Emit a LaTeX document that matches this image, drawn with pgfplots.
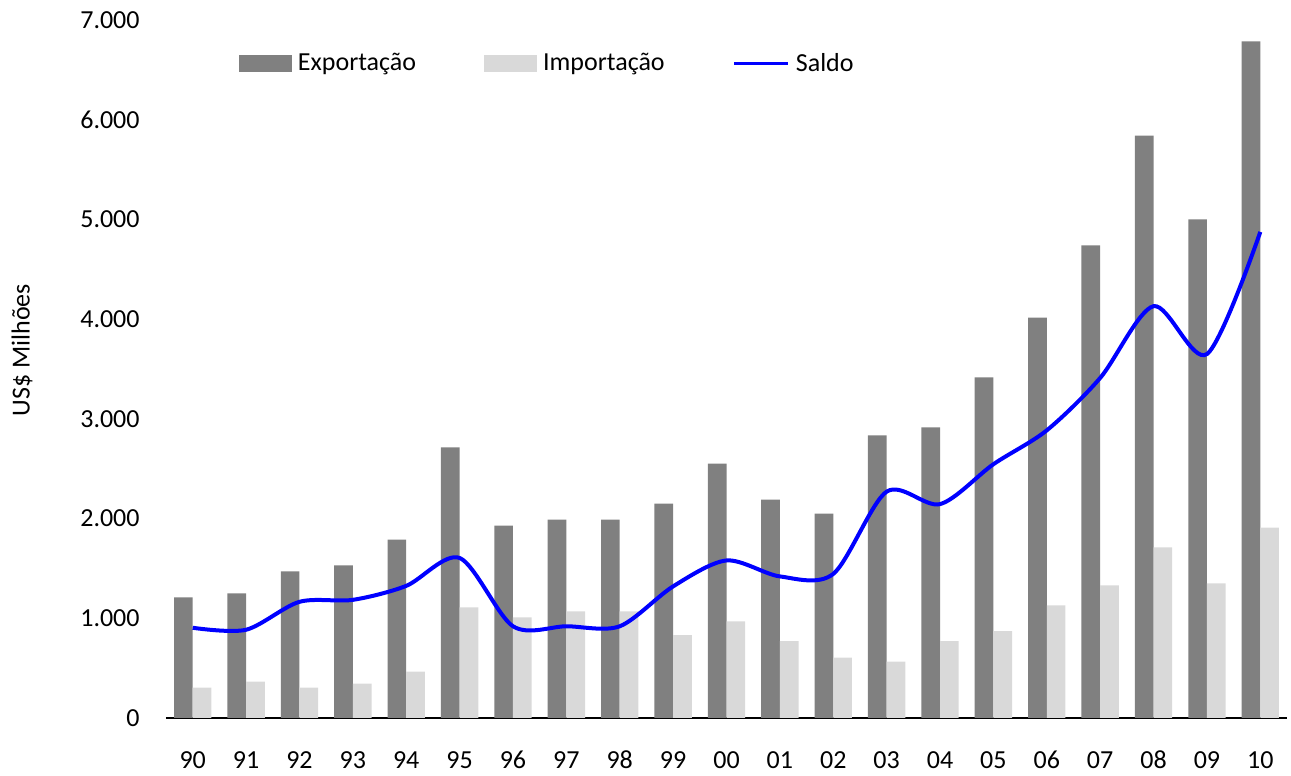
\documentclass[border=0pt]{standalone}
\usepackage{pgfplots}
\pgfplotsset{compat=1.18}
\usepackage{fontspec}
\setmainfont{Carlito}
\definecolor{expc}{RGB}{128,128,128}
\definecolor{impc}{RGB}{217,217,217}
\definecolor{salc}{RGB}{0,0,255}
\begin{document}
\begin{tikzpicture}
\useasboundingbox (0,0) rectangle (645.5pt,388pt);
\begin{axis}[
  at={(83pt,29pt)}, anchor=south west,
  scale only axis, width=560.5pt, height=349pt,
  xmin=-0.5, xmax=20.5, ymin=0, ymax=7000,
  font=\fontsize{13pt}{15pt}\selectfont,
  axis x line*=bottom, axis y line*=left,
  x axis line style={black, line width=0.6pt, -},
  y axis line style={draw=none},
  xtick={0,...,20},
  xticklabels={90,91,92,93,94,95,96,97,98,99,00,01,02,03,04,05,06,07,08,09,10},
  ytick={0,1000,...,7000},
  xtick style={draw=none}, ytick style={draw=none},
  scaled y ticks=false,
  /pgf/number format/1000 sep={.},
  /pgf/number format/assume math mode=true,
  yticklabel style={anchor=east, inner sep=0pt, xshift=-13pt},
  xticklabel style={anchor=center, inner sep=0pt, yshift=-21pt},
  ylabel={US\$ Milhões},
  ylabel style={at={(axis description cs:-0.1285,0.527)}, anchor=center},
  legend columns=3,
  legend style={draw=none, fill=none, inner sep=0pt, outer sep=0pt,
    at={(axis description cs:0.0651,0.9377)}, anchor=west,
    nodes={inner sep=0pt},
    /tikz/every odd column/.append style={column sep=3pt},
    /tikz/every even column/.append style={column sep=34pt}},
  legend cell align=left,
  clip=false,
]
\addplot[ybar, bar width=0.35, bar shift=-0.175, fill=expc, draw=none,
  legend image code/.code={\fill[expc] (0pt,-4.25pt) rectangle (26.5pt,4.25pt);}]
  coordinates {(0,1210) (1,1250) (2,1470) (3,1530) (4,1790) (5,2715) (6,1930) (7,1990) (8,1990) (9,2150) (10,2550) (11,2190) (12,2050) (13,2835) (14,2915) (15,3415) (16,4015) (17,4740) (18,5840) (19,5000) (20,6785)};
\addlegendentry{Exportação}
\addplot[ybar, bar width=0.35, bar shift=0.175, fill=impc, draw=none,
  legend image code/.code={\fill[impc] (0pt,-4.25pt) rectangle (26.5pt,4.25pt);}]
  coordinates {(0,305) (1,365) (2,305) (3,345) (4,465) (5,1110) (6,1010) (7,1070) (8,1070) (9,830) (10,970) (11,770) (12,605) (13,565) (14,770) (15,870) (16,1130) (17,1330) (18,1710) (19,1350) (20,1910)};
\addlegendentry{Importação}
\addplot[salc, line width=2pt, smooth, no marks,
  legend image code/.code={\draw[salc, line width=1.6pt] (0pt,0pt) -- (27pt,0pt);}]
  coordinates {(0,905) (1,885) (2,1165) (3,1185) (4,1325) (5,1605) (6,920) (7,920) (8,920) (9,1320) (10,1580) (11,1420) (12,1445) (13,2270) (14,2145) (15,2545) (16,2885) (17,3410) (18,4130) (19,3650) (20,4875)};
\addlegendentry{Saldo}
\end{axis}
\end{tikzpicture}
\end{document}
